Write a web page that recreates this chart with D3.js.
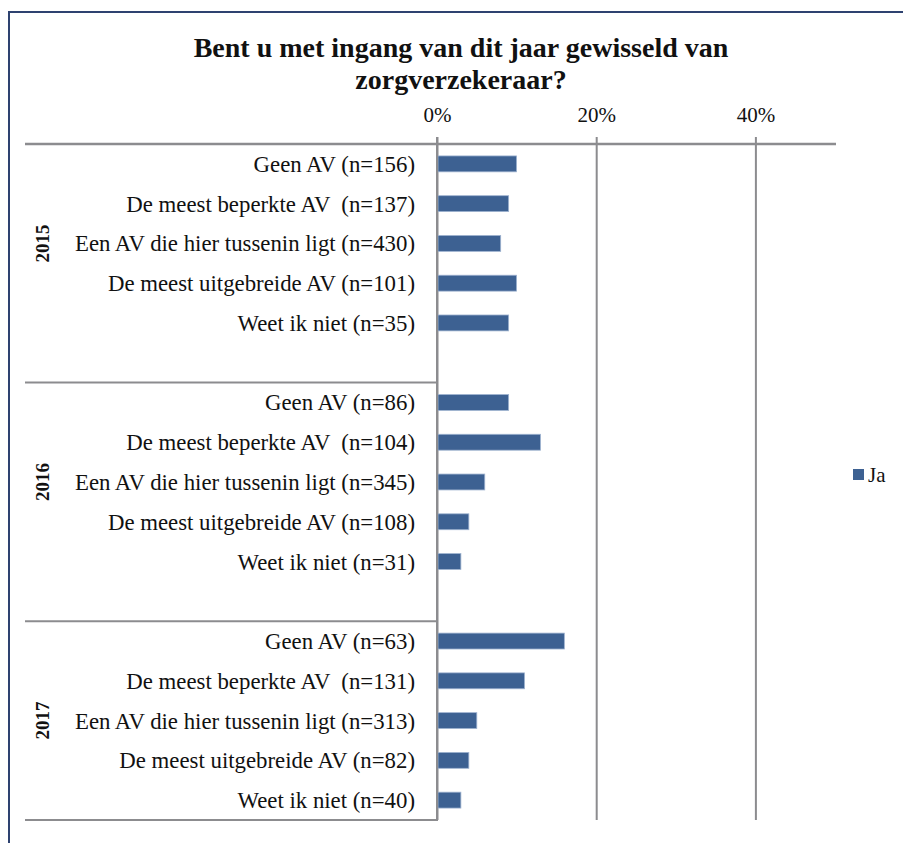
<!DOCTYPE html>
<html>
<head>
<meta charset="utf-8">
<script src="https://cdn.jsdelivr.net/npm/d3@7"></script>
<style>
  body { margin: 0; background: #fff; }
  text { font-family: 'Liberation Serif', serif; fill: #111; }
</style>
</head>
<body>
<div id="container"></div>
<script>
var width = 903, height = 843;

// data
var years = ['2015', '2016', '2017'];
var labels2015 = ['Geen AV (n=156)', 'De meest beperkte AV  (n=137)', 'Een AV die hier tussenin ligt (n=430)', 'De meest uitgebreide AV (n=101)', 'Weet ik niet (n=35)'];
var labels2016 = ['Geen AV (n=86)', 'De meest beperkte AV  (n=104)', 'Een AV die hier tussenin ligt (n=345)', 'De meest uitgebreide AV (n=108)', 'Weet ik niet (n=31)'];
var labels2017 = ['Geen AV (n=63)', 'De meest beperkte AV  (n=131)', 'Een AV die hier tussenin ligt (n=313)', 'De meest uitgebreide AV (n=82)', 'Weet ik niet (n=40)'];
var ja2015 = [10, 9, 8, 10, 9];
var ja2016 = [9, 13, 6, 4, 3];
var ja2017 = [16, 11, 5, 4, 3];
var xTicks = [0, 20, 40];
var seriesName = 'Ja';

var barColor = '#3d6192';
var gridColor = '#8c8c8f';

// build rows (empty spacer row after 2015 and 2016, as in the excel chart)
var groups = [
  {year: years[0], labels: labels2015, values: ja2015, spacer: true},
  {year: years[1], labels: labels2016, values: ja2016, spacer: true},
  {year: years[2], labels: labels2017, values: ja2017, spacer: false}
];
var rows = [];
groups.forEach(function(g, gi){
  g.first = rows.length;
  g.labels.forEach(function(l, i){
    rows.push({id: g.year + '-' + i, label: l, value: g.values[i], group: gi});
  });
  if (g.spacer) rows.push({id: g.year + '-blank', label: '', value: null, group: gi});
  g.last = rows.length - 1;
});

var plot = {left: 437, right: 835, top: 144, bottom: 820};

var svg = d3.select('#container').append('svg')
  .attr('width', width)
  .attr('height', height);

// chart frame
svg.append('rect')
  .attr('x', 9).attr('y', 12)
  .attr('width', width + 20).attr('height', height + 20)
  .style('fill', 'none')
  .style('stroke', '#2e4270')
  .style('stroke-width', 2);

var x = d3.scaleLinear()
  .domain([0, 50])
  .range([plot.left, plot.right]);

var y = d3.scaleBand()
  .domain(rows.map(function(d){ return d.id; }))
  .range([plot.top, plot.bottom])
  .paddingInner(0.6)
  .paddingOuter(0.3);

// title
svg.append('text')
  .attr('x', 461).attr('y', 57)
  .attr('text-anchor', 'middle')
  .style('font-weight', 'bold')
  .style('font-size', '28px')
  .text('Bent u met ingang van dit jaar gewisseld van');
svg.append('text')
  .attr('x', 461).attr('y', 89)
  .attr('text-anchor', 'middle')
  .style('font-weight', 'bold')
  .style('font-size', '28px')
  .text('zorgverzekeraar?');

// vertical gridlines + top axis
var xAxis = d3.axisTop(x)
  .tickValues(xTicks)
  .tickSize(-(plot.bottom - plot.top) - 7)
  .tickPadding(15)
  .tickFormat(function(d){ return d + '%'; });

var gx = svg.append('g')
  .attr('transform', 'translate(0,' + (plot.top - 7) + ')')
  .call(xAxis);
gx.select('.domain').remove();
gx.selectAll('.tick line')
  .style('stroke', gridColor)
  .style('stroke-width', 2);
gx.selectAll('.tick text')
  .style('font-family', "'Liberation Serif', serif")
  .style('font-size', '21px')
  .attr('dy', 0);

// horizontal top axis line
svg.append('line')
  .attr('x1', 25).attr('x2', plot.right + 1)
  .attr('y1', plot.top).attr('y2', plot.top)
  .style('stroke', gridColor)
  .style('stroke-width', 2.5);

// group separators on the category axis
var bandStep = y.step();
var groupEdges = groups.map(function(g){
  return y(rows[g.last].id) + y.bandwidth() + bandStep * y.paddingInner() / 2;
});
svg.selectAll('.sep')
  .data(groupEdges)
  .enter()
  .append('line')
  .attr('class', 'sep')
  .attr('x1', 25).attr('x2', plot.left)
  .attr('y1', function(d){ return Math.min(d, plot.bottom); })
  .attr('y2', function(d){ return Math.min(d, plot.bottom); })
  .style('stroke', gridColor)
  .style('stroke-width', 2);

// bars
svg.selectAll('.bar')
  .data(rows.filter(function(d){ return d.value !== null; }))
  .enter()
  .append('rect')
  .attr('class', 'bar')
  .attr('x', x(0) + 1)
  .attr('y', function(d){ return y(d.id); })
  .attr('width', function(d){ return x(d.value) - x(0) - 1; })
  .attr('height', y.bandwidth())
  .style('fill', barColor)
  .style('stroke', '#9fb3d0')
  .style('stroke-width', 0.8);

// category labels
svg.selectAll('.cat-label')
  .data(rows.filter(function(d){ return d.label !== ''; }))
  .enter()
  .append('text')
  .attr('class', 'cat-label')
  .attr('x', 415)
  .attr('y', function(d){ return y(d.id) + y.bandwidth() / 2; })
  .attr('dy', '0.35em')
  .attr('text-anchor', 'end')
  .style('font-size', '22.8px')
  .style('white-space', 'pre')
  .text(function(d){ return d.label; });

// year labels, rotated
svg.selectAll('.year-label')
  .data(groups)
  .enter()
  .append('text')
  .attr('class', 'year-label')
  .attr('transform', function(g){
    var cy = (y(rows[g.first].id) + y(rows[g.first + 4].id) + y.bandwidth()) / 2;
    return 'translate(42,' + cy + ') rotate(-90)';
  })
  .attr('text-anchor', 'middle')
  .attr('dy', '0.35em')
  .style('font-size', '19px')
  .style('font-weight', 'bold')
  .text(function(g){ return g.year; });

// vertical value axis line
svg.append('line')
  .attr('x1', plot.left).attr('x2', plot.left)
  .attr('y1', plot.top - 7).attr('y2', plot.bottom + 1)
  .style('stroke', gridColor)
  .style('stroke-width', 2);

// legend
var legend = svg.append('g').attr('transform', 'translate(853,469)');
legend.append('rect')
  .attr('width', 11).attr('height', 11)
  .style('fill', barColor);
legend.append('text')
  .attr('x', 15).attr('y', 6)
  .attr('dy', '0.35em')
  .style('font-size', '21px')
  .text(seriesName);
</script>
</body>
</html>
